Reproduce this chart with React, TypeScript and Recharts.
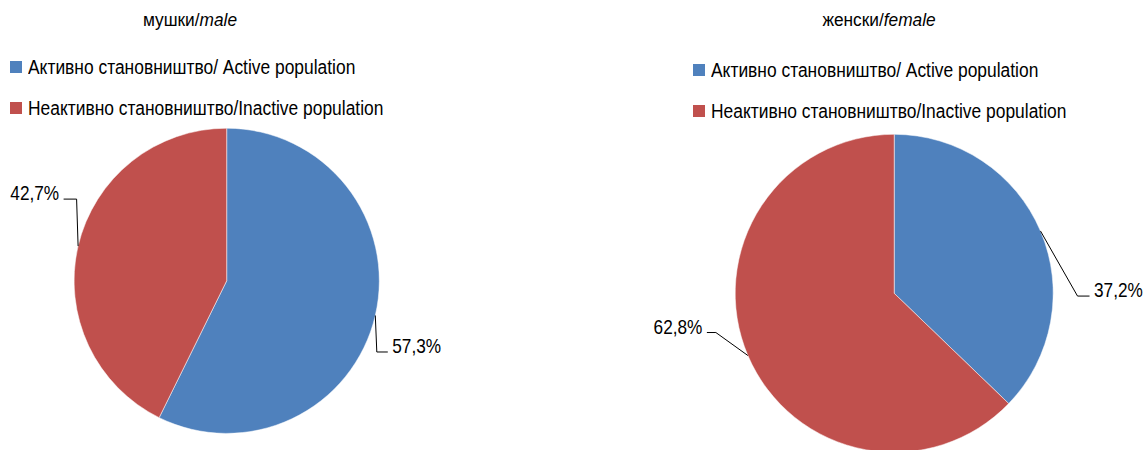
import React from "react";
import { PieChart, Pie, Cell, Legend } from "recharts";

// categories shared by both pies
const categories = [
  "Активно становништво/ Active population",
  "Неактивно становништво/Inactive population",
];
const maleValues = [57.3, 42.7];
const femaleValues = [37.2, 62.8];
const titlesPlain = ["мушки/", "женски/"];
const titlesItalic = ["male", "female"];

const COLORS = ["#4F81BD", "#C0504D"];
const FONT = '"Liberation Sans", Arial, sans-serif';
const RADIAN = Math.PI / 180;

type Bend = { dx: number; dy: number; run: number };

// leader line bends per slice (layout only)
const maleBends: Bend[] = [
  { dx: 1.5, dy: 36.5, run: 11 },
  { dx: -1.5, dy: -47, run: -13 },
];
const femaleBends: Bend[] = [
  { dx: 37, dy: 65, run: 12 },
  { dx: -32, dy: -23, run: -9 },
];

const fmt = (v: number) => v.toFixed(1).replace(".", ",") + "%";

function makeLabel(bends: Bend[]) {
  return (props: any) => {
    const { cx, cy, midAngle, outerRadius, index, value } = props;
    const x0 = cx + outerRadius * Math.cos(-midAngle * RADIAN);
    const y0 = cy + outerRadius * Math.sin(-midAngle * RADIAN);
    const b = bends[index];
    const x1 = x0 + b.dx;
    const y1 = y0 + b.dy;
    const x2 = x1 + b.run;
    const right = b.run > 0;
    const tx = right ? x2 + 4.5 : x2 - 4.5;
    return (
      <g>
        <polyline
          points={`${x0},${y0} ${x1},${y1} ${x2},${y1}`}
          fill="none"
          stroke="#000"
          strokeWidth={1}
        />
        <text
          x={0}
          y={0}
          transform={`translate(${tx},${y1 + 1}) scale(0.82,1)`}
          textAnchor={right ? "start" : "end"}
          fontSize={21}
          fontFamily={FONT}
          fill="#000"
        >
          {fmt(value)}
        </text>
      </g>
    );
  };
}

function makeLegend(left: number, top: number) {
  return () => (
    <div style={{ position: "absolute", left, top, fontFamily: FONT }}>
      {categories.map((c, i) => (
        <div
          key={c}
          style={{
            display: "flex",
            alignItems: "center",
            height: 20,
            marginBottom: i === 0 ? 21 : 0,
            fontSize: 20,
            color: "#000",
            whiteSpace: "nowrap",
          }}
        >
          <span
            style={{
              display: "inline-block",
              width: 12,
              height: 12,
              background: COLORS[i],
              marginRight: 6,
            }}
          />
          <span
            style={{
              display: "inline-block",
              transform: "scaleX(0.87)",
              transformOrigin: "left center",
            }}
          >
            {c}
          </span>
        </div>
      ))}
    </div>
  );
}

type PanelProps = {
  left: number;
  values: number[];
  titleIdx: number;
  titleX: number;
  cx: number;
  cy: number;
  r: number;
  bends: Bend[];
  legendLeft: number;
  legendTop: number;
};

function Panel({
  left,
  values,
  titleIdx,
  titleX,
  cx,
  cy,
  r,
  bends,
  legendLeft,
  legendTop,
}: PanelProps) {
  const data = categories.map((name, i) => ({ name, value: values[i] }));
  return (
    <div style={{ position: "absolute", left, top: 0, width: 574, height: 450 }}>
      <div
        style={{
          position: "absolute",
          left: titleX,
          top: 10,
          transform: "translateX(-50%) scaleX(0.96)",
          fontFamily: FONT,
          fontSize: 18,
          whiteSpace: "nowrap",
          color: "#000",
        }}
      >
        {titlesPlain[titleIdx]}
        <i>{titlesItalic[titleIdx]}</i>
      </div>
      <PieChart
        width={574}
        height={450}
        margin={{ top: 0, right: 0, bottom: 0, left: 0 }}
      >
        <Pie
          data={data}
          dataKey="value"
          nameKey="name"
          cx={cx}
          cy={cy}
          outerRadius={r}
          startAngle={90}
          endAngle={-270}
          stroke="#ffffff"
          strokeWidth={0.5}
          label={makeLabel(bends)}
          labelLine={false}
          isAnimationActive={false}
        >
          {data.map((d, i) => (
            <Cell key={d.name} fill={COLORS[i]} />
          ))}
        </Pie>
        <Legend
          content={makeLegend(legendLeft, legendTop)}
          wrapperStyle={{ position: "absolute", left: 0, top: 0, width: 574, height: 0 }}
        />
      </PieChart>
    </div>
  );
}

export default function App() {
  return (
    <div
      style={{
        position: "absolute",
        left: 0,
        top: 0,
        width: 1148,
        height: 450,
        background: "#fff",
        overflow: "hidden",
      }}
    >
      <Panel
        left={0}
        values={maleValues}
        titleIdx={0}
        titleX={190}
        cx={226.7}
        cy={280.8}
        r={152.6}
        bends={maleBends}
        legendLeft={10}
        legendTop={57}
      />
      <Panel
        left={574}
        values={femaleValues}
        titleIdx={1}
        titleX={305}
        cx={320.2}
        cy={293.3}
        r={159}
        bends={femaleBends}
        legendLeft={119}
        legendTop={60}
      />
    </div>
  );
}
